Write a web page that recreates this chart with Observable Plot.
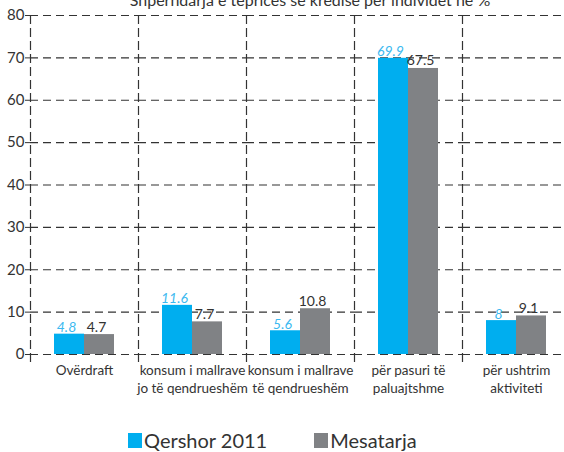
<!DOCTYPE html>
<html><head><meta charset="utf-8">
<script src="https://cdn.jsdelivr.net/npm/d3@7"></script>
<script src="https://cdn.jsdelivr.net/npm/@observablehq/plot@0.6"></script>
<style>
body{margin:0;background:#fff;font-family:Lato,sans-serif;color:#333;width:564px;height:452px;overflow:hidden;position:relative}
#title{position:absolute;top:-10px;left:0;width:620px;text-align:center;font-size:16px;white-space:nowrap;color:#333}
#chart{position:absolute;top:0;left:0;width:564px;overflow:hidden}
#chart svg{max-width:none !important}
#legend{position:absolute;top:428px;left:128px;display:flex;align-items:center;font-size:20px;color:#333;white-space:nowrap}
.sw{display:inline-block;width:14px;height:15px;margin-right:2px}
.item{display:flex;align-items:center}
</style></head>
<body>
<div id="chart"></div>
<div id="title">Shpërndarja e tepricës së kredisë për individët në %</div>
<div id="legend"></div>
<script>
const categories = ["Ovërdraft", "konsum i mallrave jo të qendrueshëm", "konsum i mallrave të qendrueshëm", "për pasuri të paluajtshme", "për ushtrim aktiviteti"];
const categoryLabels = ["Ovërdraft", "konsum i mallrave\njo të qendrueshëm", "konsum i mallrave\ntë qendrueshëm", "për pasuri të\npaluajtshme", "për ushtrim\naktiviteti"];
const series = ["Qershor 2011", "Mesatarja"];
const qershor2011 = [4.8, 11.6, 5.6, 69.9, 8];
const mesatarja = [4.7, 7.7, 10.8, 67.5, 9.1];
const yTicks = [0, 10, 20, 30, 40, 50, 60, 70, 80];
const colors = ["#00AEEF", "#808285"];

const rows = categories.flatMap((c, i) => [
  {category: c, series: series[0], value: qershor2011[i]},
  {category: c, series: series[1], value: mesatarja[i]}
]);

const chart = Plot.plot({
  width: 570, height: 410,
  marginTop: 15, marginLeft: 30, marginRight: 0, marginBottom: 48,
  style: {fontFamily: "Lato, sans-serif", fontSize: "15px", color: "#333", background: "transparent", maxWidth: "none"},
  fx: {domain: categories, padding: 0, label: null},
  x: {domain: series, paddingInner: 0, paddingOuter: 0.75, axis: null},
  y: {domain: [0, 80], insetBottom: 8, label: null},
  color: {domain: series, range: colors},
  marks: [
    Plot.ruleY(yTicks, {stroke: "#333", strokeWidth: 1.2, strokeDasharray: "8,5"}),
    Plot.frame({anchor: "left", stroke: "#333", strokeWidth: 1.2, strokeDasharray: "8,5"}),
    Plot.barY(rows, {fx: "category", x: "series", y: "value", fill: "series"}),
    Plot.text(rows.filter(d => d.series === series[0]), {fx: "category", x: "series", y: "value", text: d => String(d.value), fill: "#3BB9F0", fontStyle: "italic", fontSize: 14, lineAnchor: "bottom", dy: -2, dx: -3}),
    Plot.text(rows.filter(d => d.series === series[1]), {fx: "category", x: "series", y: "value", text: d => String(d.value), fill: "#333", fontSize: 14, lineAnchor: "bottom", dy: -3, dx: -3}),
    Plot.axisFx({anchor: "bottom", tickSize: 0, tickPadding: 0, label: null, fontSize: 13.5, lineHeight: 1.3, tickFormat: d => categoryLabels[categories.indexOf(d)]}),
    Plot.axisY({anchor: "left", ticks: yTicks, tickSize: 5, tickPadding: 1, label: null, fontSize: 15})
  ]
});
chart.style.maxWidth = "none";
document.getElementById("chart").appendChild(chart);

const legend = document.getElementById("legend");
series.forEach((s, i) => {
  const it = document.createElement("div");
  it.className = "item";
  it.style.marginRight = i === 0 ? "47px" : "0";
  it.innerHTML = `<span class="sw" style="background:${colors[i]}"></span><span>${s}</span>`;
  legend.appendChild(it);
});
</script>
</body></html>
